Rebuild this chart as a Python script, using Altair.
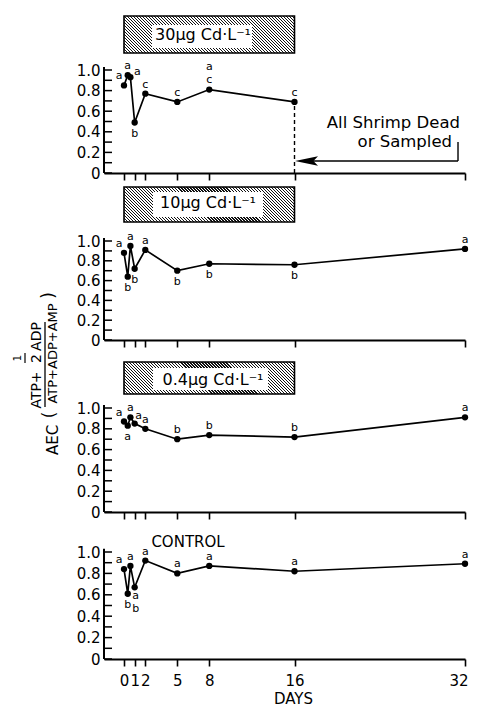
import altair as alt
import pandas as pd

# ---------------- data ----------------
days = [0, 0.35, 0.6, 1, 2, 5, 8, 16, 32]
aec_30 = [0.85, 0.95, 0.93, 0.49, 0.77, 0.69, 0.81, 0.69]
aec_10 = [0.88, 0.64, 0.95, 0.72, 0.91, 0.70, 0.77, 0.76, 0.92]
aec_04 = [0.87, 0.83, 0.91, 0.85, 0.80, 0.70, 0.74, 0.72, 0.91]
aec_ctl = [0.84, 0.61, 0.87, 0.67, 0.92, 0.80, 0.87, 0.82, 0.89]

let_30 = ["a", "a", "a", "b", "c", "c", "a\nc", "c"]
let_10 = ["a", "b", "a", "b", "a", "b", "b", "b", "a"]
let_04 = ["a", "a", "a", "a", "a", "b", "b", "b", "a"]
let_ctl = ["a", "b", "a", "a\nb", "a", "a", "a", "a", "a"]

side_30 = ["upleft", "above", "right", "below", "above", "above", "above2", "above"]
side_10 = ["upleft", "below", "above", "below", "above", "below", "below", "below", "above"]
side_04 = ["upleft", "below", "above", "upright", "above", "above", "above", "above", "above"]
side_ctl = ["upleft", "below", "above", "below2", "above", "above", "above", "above", "above"]

headers = ["30µg Cd·L⁻¹", "10µg Cd·L⁻¹", "0.4µg Cd·L⁻¹", "CONTROL"]
note_lines = ["All Shrimp Dead", "or Sampled"]
x_ticks = [0, 1, 2, 5, 8, 16, 32]
y_ticks = [0, 0.1, 0.2, 0.3, 0.4, 0.5, 0.6, 0.7, 0.8, 0.9, 1.0]
y_labels = [0, 0.2, 0.4, 0.6, 0.8, 1.0]

# ---------------- layout ----------------
FONT = "DejaVu Sans"
PX = 10.656           # pixels per day
XMIN = -1.877
W = 361
DAY0 = 124            # page x of day 0


def dday(px):
    return (px - DAY0) / PX


xs = alt.Scale(domain=[XMIN, 32], nice=False, zero=False)
one = alt.Data(values=[{"k": 1}])

# side -> (dx, dy, baseline, lineHeight)
SIDES = {
    "above": (0, -9, "middle", 11),
    "below": (0, 11, "middle", 11),
    "upleft": (-5, -9, "middle", 11),
    "upright": (4, -8, "middle", 11),
    "right": (7, -5, "middle", 11),
    "above2": (0, -19.5, "alphabetic", 12.5),
    "below2": (1, 12, "alphabetic", 13),
}

GEOM = [
    dict(h=158, ppu=103, box=(157, 120), white=(148, 125, 152, 252), txt=(133, 203), fs=16),
    dict(h=167, ppu=99, box=(153, 118), white=(148, 123, 153, 263), txt=(132, 208), fs=16),
    dict(h=172, ppu=104, box=(150, 118), white=(144, 122, 153, 268), txt=(127, 213), fs=16),
    dict(h=147, ppu=107, box=None, white=None, txt=(112, 188), fs=15),
]


def hatch(w, h, period=3.0, ink=0.45):
    k = (w + h) / (w * w + h * h)
    a, b = k * w, -k * h
    n = int((w + h) / period)
    stops = []
    for j in range(n):
        o0, o1, o2 = j / n, (j + ink) / n, (j + 1) / n
        stops += [
            {"offset": round(o0, 5), "color": "#111111"},
            {"offset": round(o1, 5), "color": "#111111"},
            {"offset": round(o1, 5), "color": "#ffffff"},
            {"offset": round(o2, 5), "color": "#ffffff"},
        ]
    return {"gradient": "linear", "x1": 0, "y1": 1, "x2": a, "y2": 1 + b, "stops": stops}


def X(d):
    return alt.X(datum=d, type="quantitative", scale=xs, axis=None)


def panel(i, vals, lets, sides, show_x):
    g = GEOM[i]
    ppu, h = g["ppu"], g["h"]
    ys = alt.Scale(domain=[0, h / ppu], nice=False, zero=False)

    def Y(v):
        return alt.Y(datum=v, type="quantitative", scale=ys, axis=None)

    def up(px):
        return px / ppu

    n = len(vals)
    df = pd.DataFrame({"day": days[:n], "aec": vals, "letter": lets, "side": sides})
    base = alt.Chart(df)

    xaxis = alt.Axis(
        orient="bottom", values=x_ticks, grid=False, labels=show_x, ticks=True,
        tickSize=7, tickWidth=1.6, tickColor="black", domain=True, domainWidth=2,
        domainColor="black", labelFont=FONT, labelFontSize=15, labelColor="black",
        labelFlush=5, labelFlushOffset=3, labelOverlap=False, labelPadding=7,
        title="DAYS" if show_x else None, titleFont=FONT, titleFontSize=15,
        titleFontWeight="normal", titleColor="black", titlePadding=3, titleX=189,
    )
    yaxis = alt.Axis(
        orient="left", values=y_labels, grid=False, domain=False, ticks=False,
        labelExpr="datum.value == 0 ? '0' : format(datum.value, '.1f')",
        labelFont=FONT, labelFontSize=15, labelColor="black", labelPadding=4,
        labelFlush=False, labelOverlap=False, title=None,
    )

    layers = []
    layers.append(base.mark_line(color="black", strokeWidth=1.7).encode(
        x=alt.X("day:Q", scale=xs, axis=xaxis),
        y=alt.Y("aec:Q", scale=ys, axis=yaxis)))
    # y axis line and inward ticks
    layers.append(alt.Chart(one).mark_rule(color="black", strokeWidth=2).encode(
        x=alt.value(0), y=Y(0), y2=alt.Y2(datum=1.03)))
    layers.append(alt.Chart(pd.DataFrame({"v": y_ticks})).mark_rule(
        color="black", strokeWidth=1.5).encode(
        y=alt.Y("v:Q", scale=ys, axis=None), x=alt.value(0), x2=alt.value(8)))

    layers.append(base.mark_circle(size=40, color="black", opacity=1).encode(
        x=alt.X("day:Q", scale=xs, axis=None),
        y=alt.Y("aec:Q", scale=ys, axis=None)))

    for s, (ddx, ddy, bl, lh) in SIDES.items():
        if s not in sides:
            continue
        layers.append(base.transform_filter(alt.datum.side == s).mark_text(
            font=FONT, fontSize=11, dx=ddx, dy=ddy, align="center",
            baseline=bl, lineBreak="\n", lineHeight=lh, color="black").encode(
            x=alt.X("day:Q", scale=xs, axis=None),
            y=alt.Y("aec:Q", scale=ys, axis=None),
            text="letter:N"))

    # header
    if g["box"] is not None:
        b0, b1 = g["box"]
        bw = 16 * PX
        bh = b0 - b1
        layers.append(alt.Chart(one).mark_rect(
            fill=hatch(bw, bh), stroke="black", strokeWidth=1.6).encode(
            x=X(0), x2=alt.X2(datum=16), y=Y(up(b0)), y2=alt.Y2(datum=up(b1))))
        w0, w1, wx0, wx1 = g["white"]
        layers.append(alt.Chart(one).mark_rect(fill="white", strokeWidth=0).encode(
            x=X(dday(wx0)), x2=alt.X2(datum=dday(wx1)),
            y=Y(up(w0)), y2=alt.Y2(datum=up(w1))))
    ty, tx = g["txt"]
    layers.append(alt.Chart(one).mark_text(
        text=headers[i], font=FONT, fontSize=g["fs"], align="center",
        baseline="alphabetic", color="black").encode(x=X(dday(tx)), y=Y(up(ty))))

    if i == 0:
        layers.append(alt.Chart(one).mark_rule(
            color="black", strokeWidth=1.4, strokeDash=[4, 3]).encode(
            x=X(days[7]), y=Y(0), y2=alt.Y2(datum=aec_30[7])))
        layers.append(alt.Chart(one).mark_text(
            text=note_lines[0], font=FONT, fontSize=16.5, align="right",
            baseline="alphabetic", color="black").encode(x=X(dday(460)), y=Y(up(45))))
        layers.append(alt.Chart(one).mark_text(
            text=note_lines[1], font=FONT, fontSize=16.5, align="right",
            baseline="alphabetic", color="black").encode(x=X(dday(452)), y=Y(up(26))))
        layers.append(alt.Chart(one).mark_rule(color="black", strokeWidth=1.4).encode(
            x=X(dday(458)), y=Y(up(31)), y2=alt.Y2(datum=up(12))))
        layers.append(alt.Chart(one).mark_rule(color="black", strokeWidth=1.4).encode(
            x=X(dday(312)), x2=alt.X2(datum=dday(458)), y=Y(up(12))))
        layers.append(alt.Chart(one).mark_point(
            shape="M-1,0L1,-0.42L0.6,0L1,0.42Z", size=529, filled=True,
            color="black", opacity=1, strokeWidth=0).encode(
            x=X(dday(306.5)), y=Y(up(12))))

    if i == 2:
        L, T = 104, 340

        def tx_(text, px, py, fs):
            return alt.Chart(one).mark_text(
                text=text, font=FONT, fontSize=fs, angle=270, align="center",
                baseline="middle", color="black").encode(
                x=alt.value(px - L), y=alt.value(py - T))

        layers += [
            tx_("AEC", 52.5, 440, 15),
            tx_("(", 50, 415, 17),
            tx_("ATP+", 37, 390, 14),
            tx_("2", 37, 358.5, 14),
            tx_("ADP", 37, 336.5, 14),
            tx_("1", 17.5, 358, 10),
            tx_("ATP+ADP+AMP", 53, 353.5, 13),
            tx_(")", 48.5, 295.5, 17),
        ]
        layers.append(alt.Chart(one).mark_rule(color="black", strokeWidth=1.2).encode(
            x=alt.value(25 - L), y=alt.value(353 - T), y2=alt.value(363 - T)))
        layers.append(alt.Chart(one).mark_rule(color="black", strokeWidth=1.3).encode(
            x=alt.value(45 - L), y=alt.value(322 - T), y2=alt.value(407 - T)))

    return alt.layer(*layers).resolve_axis(x="independent", y="independent").properties(
        width=W, height=h)


chart = alt.vconcat(
    panel(0, aec_30, let_30, side_30, False),
    panel(1, aec_10, let_10, side_10, False),
    panel(2, aec_04, let_04, side_04, False),
    panel(3, aec_ctl, let_ctl, side_ctl, True),
    spacing=0, bounds="flush",
).properties(
    padding={"left": 4, "top": 7, "right": 0, "bottom": 0},
    background="white",
).configure_view(strokeWidth=0)

chart.save("out.html", embed_options={"renderer": "svg", "actions": False})
